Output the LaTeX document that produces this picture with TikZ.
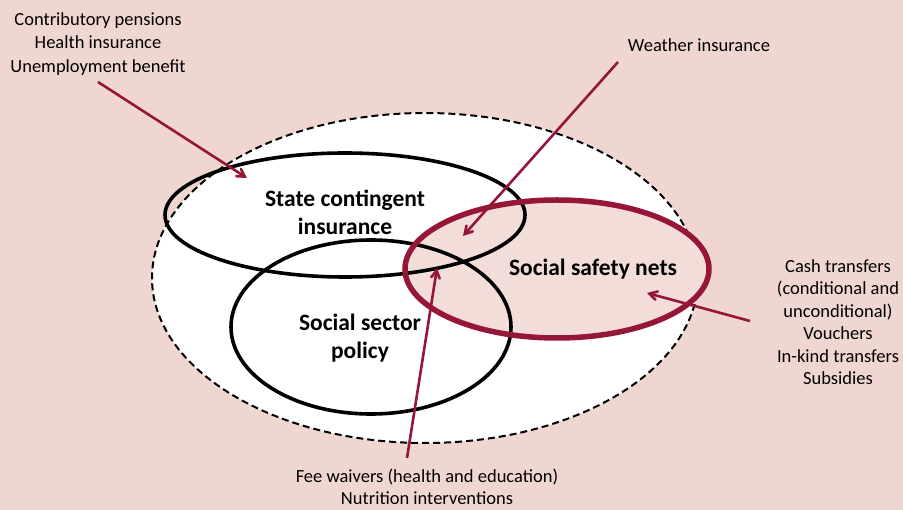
\documentclass[tikz,border=0pt]{standalone}
\usepackage{fontspec}
\setmainfont{Carlito}
\usetikzlibrary{%
	shapes.geometric,%
	arrows%
}
\definecolor{bgpink}{RGB}{240,214,208}
\definecolor{netfill}{RGB}{243,221,216}
\definecolor{darkred}{RGB}{150,22,56}

\begin{document}
\begin{tikzpicture}[x=1pt,y=-1pt,
	ring/.style={ellipse,draw,inner sep=0pt},
	lbl/.style={align=center,font=\fontsize{18.5}{22.5}\selectfont},
	title/.style={align=center,font=\fontsize{23.5}{28}\selectfont\bfseries},
	pointer/.style={draw=darkred,line width=2.6pt,->,>=angle 60}]
	\fill[bgpink] (0,0) rectangle (903,510);
	\useasboundingbox (0,0) rectangle (903,510);
	%
	\node[ring,dash pattern=on 7pt off 4pt,line width=2pt,fill=white,minimum width=546pt,minimum height=330pt] (all) at (425,278) {};
	\node[ring,draw=none,fill=netfill,minimum width=304pt,minimum height=138pt] (netsbg) at (557,269) {};
	\node[ring,line width=3.6pt,minimum width=360pt,minimum height=124pt] (sci) at (345,215) {};
	\node[ring,line width=3.6pt,minimum width=280pt,minimum height=174pt] (ssp) at (371,327) {};
	\node[ring,draw=darkred,line width=5.5pt,minimum width=304pt,minimum height=138pt] (ssn) at (557,269) {};
	%
	\node[title] (scitext) at (345,212) {State contingent\\insurance};
	\node[title] (ssptext) at (360,338) {Social sector\\policy};
	\node[title] at (593,269) (ssntext) {Social safety nets};
	%
	\node[lbl,font=\fontsize{18.5}{23.5}\selectfont] (ins) at (98,44) {Contributory pensions\\Health insurance\\Unemployment benefit};
	\node[lbl] (weather) at (699,45) {Weather insurance};
	\node[lbl] (cash) at (838,322) {Cash transfers\\(conditional and\\unconditional)\\Vouchers\\In-kind transfers\\Subsidies};
	\node[lbl,inner sep=1pt] (fee) at (427,487) {Fee waivers (health and education)\\Nutrition interventions};
	%
	\coordinate (insend) at (247,178);
	\coordinate (weatherend) at (463,236);
	\coordinate (cashend) at (647,293);
	\coordinate (feeend) at (437,268);
	\coordinate (insstart) at (98,82);
	\coordinate (weatherstart) at (618,62);
	\coordinate (cashstart) at (750,321);
	\coordinate (feestart) at (407,458);
	\draw[pointer] (insstart) -- (insend);
	\draw[pointer] (weatherstart) -- (weatherend);
	\draw[pointer] (cashstart) -- (cashend);
	\draw[pointer] (feestart) -- (feeend);
\end{tikzpicture}
\end{document}
